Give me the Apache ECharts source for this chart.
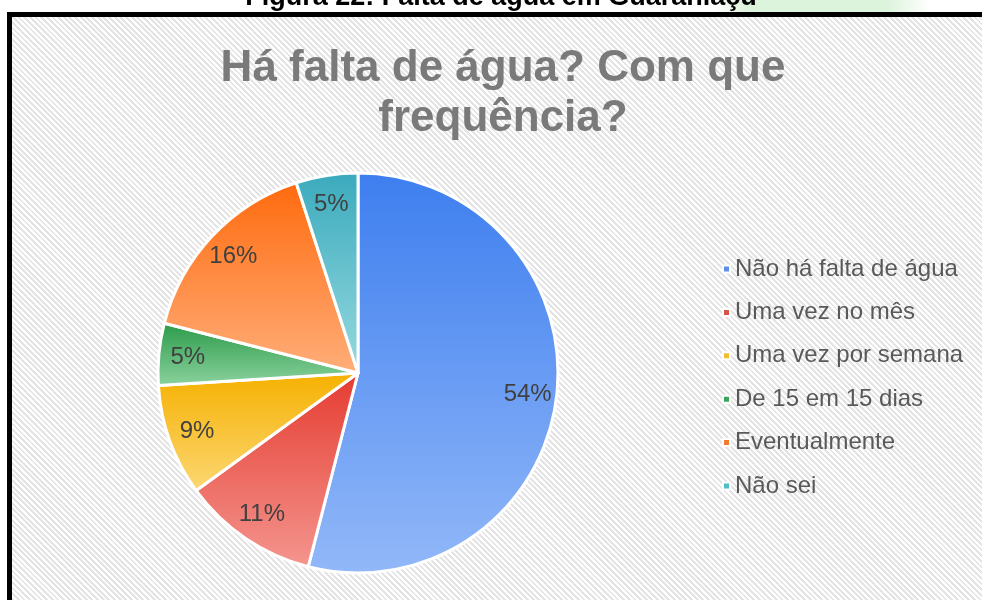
<!DOCTYPE html>
<html>
<head>
<meta charset="utf-8">
<script src="https://cdn.jsdelivr.net/npm/echarts@6/dist/echarts.min.js"></script>
<style>
  html, body { margin: 0; padding: 0; width: 982px; height: 600px; overflow: hidden; background: #ffffff; }
  #frame {
    position: absolute; left: 7px; top: 12px; width: 1000px; height: 620px;
    border-left: 5px solid #000; border-top: 5px solid #000;
    background: repeating-linear-gradient(45deg, #ffffff 0px, #ffffff 2px, #e4e4e4 2px, #e4e4e4 4px);
  }
  #chart { position: absolute; left: 0; top: 0; width: 982px; height: 600px; }
</style>
</head>
<body>
<div id="frame"></div>
<div id="chart"></div>
<script>
const categories = ['Não há falta de água', 'Uma vez no mês', 'Uma vez por semana', 'De 15 em 15 dias', 'Eventualmente', 'Não sei'];
const values = [54, 11, 9, 5, 16, 5];
const topColors = ['#3d7eef', '#e53b30', '#f6b100', '#2a9a48', '#ff6a0d', '#3aaabd'];
const bottomColors = ['#92b8f8', '#f4968f', '#fcd774', '#8cd3a0', '#ffae7a', '#98dadf'];
const legendColors = ['#5b8fe8', '#d9534a', '#f2bd33', '#3aa45a', '#f47a30', '#4fbcc6'];
const titleText = 'Há falta de água? Com que\nfrequência?';
const captionText = 'Figura 22: Falta de água em Guaraniaçu';

const chart = echarts.init(document.getElementById('chart'), null, { renderer: 'canvas' });

const mainData = categories.map((name, i) => ({
  name: name,
  value: values[i],
  itemStyle: {
    color: new echarts.graphic.LinearGradient(0, 0, 0, 1, [
      { offset: 0, color: topColors[i] },
      { offset: 1, color: bottomColors[i] }
    ])
  }
}));
const labelData = categories.map((name, i) => ({ name: name, value: values[i] }));

const option = {
  backgroundColor: 'transparent',
  animation: false,
  graphic: [
    {
      type: 'rect', silent: true, z: -1,
      shape: { x: 715, y: 0, width: 215, height: 12 },
      style: {
        fill: new echarts.graphic.LinearGradient(0, 0, 1, 0, [
          { offset: 0, color: 'rgba(220,243,220,0)' },
          { offset: 0.15, color: 'rgba(220,243,220,1)' },
          { offset: 0.8, color: 'rgba(220,243,220,1)' },
          { offset: 1, color: 'rgba(220,243,220,0)' }
        ])
      }
    },
    {
      type: 'text', silent: true,
      x: 501, y: 11,
      style: {
        text: captionText,
        font: 'bold 27px "Liberation Sans", Arial, sans-serif',
        fill: '#000000',
        align: 'center',
        verticalAlign: 'bottom'
      }
    }
  ],
  title: {
    text: titleText,
    left: 498,
    textAlign: 'center',
    top: 39,
    textStyle: {
      fontFamily: '"Liberation Sans", Arial, sans-serif',
      fontSize: 44,
      fontWeight: 'bold',
      color: '#7a7a7a',
      lineHeight: 50
    }
  },
  legend: {
    orient: 'vertical',
    left: 717,
    top: 252,
    icon: 'rect',
    itemWidth: 7,
    itemHeight: 7,
    itemGap: 19.4,
    data: categories.map((name, i) => ({ name: name, itemStyle: { color: legendColors[i] } })),
    textStyle: {
      fontFamily: '"Liberation Sans", Arial, sans-serif',
      fontSize: 24,
      color: '#595959',
      lineHeight: 24
    }
  },
  series: [
    {
      type: 'pie',
      center: [358, 373],
      radius: [0, 200],
      startAngle: 90,
      clockwise: true,
      avoidLabelOverlap: false,
      label: { show: false },
      labelLine: { show: false },
      emphasis: { disabled: true },
      itemStyle: { borderColor: '#ffffff', borderWidth: 3 },
      data: mainData
    },
    {
      type: 'pie',
      center: [358, 373],
      radius: [136, 200],
      startAngle: 90,
      clockwise: true,
      silent: true,
      legendHoverLink: false,
      avoidLabelOverlap: false,
      emphasis: { disabled: true },
      itemStyle: { color: 'rgba(0,0,0,0)', borderWidth: 0 },
      labelLine: { show: false },
      label: {
        show: true,
        position: 'inside',
        formatter: '{c}%',
        fontFamily: '"Liberation Sans", Arial, sans-serif',
        fontSize: 24,
        color: '#404040'
      },
      data: labelData
    }
  ]
};
chart.setOption(option);
</script>
</body>
</html>
